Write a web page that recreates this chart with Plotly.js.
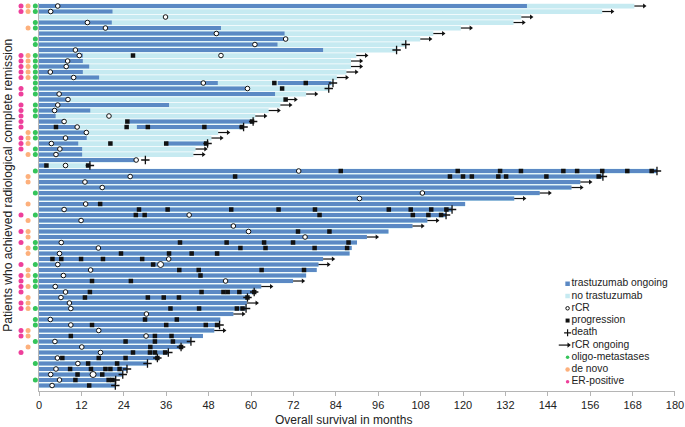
<!DOCTYPE html>
<html>
<head>
<meta charset="utf-8">
<script src="https://cdn.plot.ly/plotly-3.0.1.min.js"></script>
<style>html, body { margin: 0; padding: 0; background: #fff; }</style>
</head>
<body>
<div id="plot"></div>
<script>
// one value per patient row, top row first
const totalMonths = [
    168.5, 159.4, 136.5, 134.3, 119.4, 111.6, 107.9, 103.8, 101.2, 89.8,
    88.3, 88.3, 87, 84.3, 83.2, 82, 75.6, 69.8, 68.3, 65,
    61.2, 60.6, 57.9, 50.7, 48.8, 47.7, 44.3, 43.7, 27.5, 13.9,
    174.9, 159.6, 153.2, 150.7, 141.7, 134.5, 120.6, 116.9, 115.2, 109.9,
    105.7, 98.9, 92.8, 90, 88.5, 87.9, 80.4, 79.1, 78.6, 75.6,
    71.9, 62.9, 60.9, 59, 58.8, 58.6, 55, 51.3, 51.1, 49.6,
    46.4, 43, 40.2, 36.6, 33.5, 30.7, 24.9, 23.7, 21.7, 21.6
];
const rcrMonths = [
    5.3, 3.3, 35.8, 13.7, 18.8, 50.2, 69.8, 61.1, 10.3, 11.4,
    8.1, 7.7, 3.2, 9.8, 46.5, 59, 5.7, 8.2, 5.3, 4.4,
    19.8, 7.1, 10.8, 13.4, 7.5, 3.5, 5.9, 4.8, 27.5, 7.5,
    73.5, 25.8, 13, 17.9, 108.5, 90.7, 13.2, 7.1, 42.5, 11.9,
    55, 59.3, 75.3, 6.3, 16.8, 5.8, 36.7, 5.3, 14.6, 6.9,
    52.8, 4.6, 7.5, 6.2, 8.6, 9, 30.4, 3.2, 9, 16.9,
    30.3, 4.5, 12.1, 17.4, 5.2, 11, 4.8, 3.3, 5.8, 3.7
];

// rows with a second rCR
const rcr2Rows = [9];
const rcr2Months = [51.5];
const rcrBigRows = [47, 67];
const rcrBigMonths = [34.4, 15.3];

// trastuzumab segments, rows 30-69 run the whole bar
const darkRows = [0, 1, 3, 4, 5, 6, 7, 8, 9, 10, 11, 12, 13, 14, 14, 15, 16, 17, 18, 19, 20, 21, 21, 22, 22, 23, 24, 25, 25, 26, 27, 28, 29];
const darkStart = [0, 0, 0, 0, 0, 0, 0, 0, 0, 0, 0, 0, 0, 0, 67.6, 0, 0, 0, 0, 0, 0, 0, 25.5, 0, 27.7, 0, 0, 0, 36, 0, 0, 0, 0];
const darkEnd = [138.1, 20.8, 20.6, 51.5, 69.5, 69.8, 67.5, 80.4, 12.4, 12.4, 14.2, 12.4, 17, 50.6, 82.7, 58.4, 66.8, 8.2, 36.8, 14.5, 4.7, 7.1, 60.2, 10.8, 57.4, 13.4, 13.5, 11.1, 47.2, 12.2, 12.2, 27.5, 2.1];

const progRows = [
    9, 14, 14, 15, 17, 21, 21, 22, 22, 22, 22, 22, 25, 25, 25, 29, 29,
    30, 30, 30, 30, 30, 30, 30, 30, 30,
    31, 31, 31, 31, 31, 31, 31, 31, 36,
    37, 37, 37, 37, 37, 37, 37, 37, 37,
    38, 38, 38, 38, 38, 38, 41, 41,
    43, 43, 43, 43, 43, 44, 44, 44, 44, 45, 45, 45, 45,
    46, 46, 46, 46, 46, 47, 48, 48, 48, 48, 49, 50, 50,
    52, 52, 52, 52, 52, 52, 53, 53, 53, 53, 53, 55, 55, 55, 55,
    57, 57, 58, 58, 58, 58, 60, 60, 60, 61, 61, 61, 62, 62,
    63, 63, 63, 63, 64, 64, 64, 64, 65, 65,
    66, 66, 66, 66, 66, 67, 67, 68, 68, 68, 69
];
const progMonths = [
    26.6, 66.6, 75.5, 68.8, 69.8, 25, 60.3, 4.8, 24.8, 30.8, 46.8, 57.4, 20.2, 36, 47.3, 2.1, 13.9,
    85.4, 118.5, 130.5, 136.4, 148.4, 152.3, 159.4, 166.5, 173.4,
    55.5, 116.3, 120, 122.5, 130, 132.2, 143.6, 158.4, 17.3,
    28.3, 36.4, 54.4, 67.8, 78.1, 99, 105.2, 111, 115.3,
    27.4, 29.9, 79.4, 105.8, 110.2, 113.8, 73.3, 82.2,
    39.9, 53.1, 63.7, 71.9, 87.6, 57, 64.1, 78, 87.2, 23.2, 36.8, 43.2, 50.4,
    3.8, 6.3, 11.9, 18.1, 29.2, 32.3, 39.7, 45.2, 63, 75, 45.7, 15, 26,
    14.4, 46, 52.2, 53.4, 56.7, 60.9, 13, 30.8, 35.3, 39.6, 59, 37.2, 45.3, 56, 57.6,
    30, 39, 15, 36, 47.2, 50.4, 9, 32.8, 37.5, 24.5, 32.8, 37.9, 31.5, 40.2,
    26.6, 31.4, 32.8, 35.7, 6.6, 16.9, 24.5, 33.5, 13.9, 22.1,
    8.8, 14.7, 18.8, 20.2, 22.8, 10.9, 17.9, 10.3, 19.7, 20.8, 14.2
];

const deathRows = [7, 8, 14, 15, 21, 22, 25, 28, 29, 30, 31, 37, 38, 52, 53, 55, 58, 61, 62, 63, 64, 65, 66, 67, 68, 69];
const deathMonths = [103.8, 101.2, 83.2, 82, 60.6, 57.9, 47.7, 30.1, 14.4, 174.9, 159.6, 116.9, 115.2, 60.9, 59, 58.6, 51.1, 43, 40.2, 36.6, 33.5, 30.7, 24.9, 23.7, 21.7, 21.6];

const ongoingRows = [0, 1, 2, 3, 4, 5, 6, 9, 10, 11, 12, 13, 16, 17, 18, 19, 20, 23, 24, 26, 27, 32, 33, 34, 35, 39, 40, 42, 46, 47, 50, 51, 54, 56, 59];

const oligoRows = [0, 1, 3, 4, 6, 7, 9, 10, 11, 12, 13, 14, 15, 16, 18, 19, 20, 23, 24, 26, 27, 30, 34, 38, 43, 44, 47, 49, 50, 51, 55, 57, 58, 61, 65, 68];
const deNovoRows = [0, 1, 4, 9, 10, 11, 12, 13, 23, 24, 25, 27, 31, 32, 36, 39, 41, 42, 44, 45, 48, 49, 51, 53, 54, 55, 59, 60, 62];
const erRows = [0, 1, 9, 10, 11, 12, 13, 15, 16, 18, 19, 20, 21, 22, 24, 25, 26, 38, 41, 43, 47, 49, 50, 51, 52, 54, 55, 59, 60, 63];

const legendLabels = ['trastuzumab ongoing', 'no trastuzumab', 'rCR', 'progression', 'death', 'rCR ongoing', 'oligo-metastases', 'de novo', 'ER-positive'];

const xTicks = [0, 12, 24, 36, 48, 60, 72, 84, 96, 108, 120, 132, 144, 156, 168, 180];

const DARK = '#5b89c4';
const LIGHT = '#c6eaf1';
const GREEN = '#35c45a';
const ORANGE = '#fdb07c';
const PINK = '#ee3f9b';
const ARROW_LENGTH = 2.8;

const allRows = totalMonths.map((v, i) => i);

function dots(rows, x, color, size, symbol) {
    return {
        x: rows.map(() => x),
        y: rows,
        type: 'scatter',
        mode: 'markers',
        marker: { color: color, size: size || 4.5, symbol: symbol || 'circle' },
    };
}

// patient flags sit in a strip left of the month axis
function flags(rows, x, color) {
    let trace = dots(rows, x, color, 5);
    trace.xaxis = 'x2';
    return trace;
}

function openCircles(rows, months, size) {
    return {
        x: months,
        y: rows,
        type: 'scatter',
        mode: 'markers',
        marker: { color: '#fff', size: size, line: { color: '#111', width: 1 } },
    };
}

function blackMarks(rows, months, symbol, size, lineWidth) {
    return {
        x: months,
        y: rows,
        type: 'scatter',
        mode: 'markers',
        marker: { color: '#111', symbol: symbol, size: size, line: { color: '#111', width: lineWidth || 0 } },
    };
}

function arrowLines(rows, starts) {
    let x = [], y = [];
    rows.forEach(function (row, i) {
        x.push(starts[i], starts[i] + ARROW_LENGTH, null);
        y.push(row, row, null);
    });
    return {
        x: x,
        y: y,
        type: 'scatter',
        mode: 'lines',
        line: { color: '#111', width: 1.2 },
    };
}

let ongoingStart = ongoingRows.map(row => totalMonths[row]);
let ongoingHead = ongoingStart.map(v => v + ARROW_LENGTH);

// rows 30-69 are trastuzumab from start to end
let solidRows = allRows.slice(30);

let data = [
    {
        x: totalMonths,
        y: allRows,
        type: 'bar',
        orientation: 'h',
        width: 0.86,
        marker: { color: LIGHT },
    },
    {
        x: darkEnd.map((v, i) => v - darkStart[i]),
        base: darkStart,
        y: darkRows,
        type: 'bar',
        orientation: 'h',
        width: 0.76,
        marker: { color: DARK },
    },
    {
        x: solidRows.map(row => totalMonths[row]),
        y: solidRows,
        type: 'bar',
        orientation: 'h',
        width: 0.76,
        marker: { color: DARK },
    },
    arrowLines(ongoingRows, ongoingStart),
    blackMarks(ongoingRows, ongoingHead, 'triangle-right', 4.5),
    blackMarks(deathRows, deathMonths, 'cross-thin', 6, 1.3),
    blackMarks(progRows, progMonths, 'square', 4.5),
    openCircles(allRows, rcrMonths, 4.6),
    openCircles(rcr2Rows, rcr2Months, 4.6),
    openCircles(rcrBigRows, rcrBigMonths, 6),
    flags(oligoRows, -1.04, GREEN),
    flags(deNovoRows, -3.1, ORANGE),
    flags(erRows, -5.1, PINK),
];

// key drawn on the same axes: the built-in legend can't pack rows this tight
const keyX = 149.6;
const keyRows = legendLabels.map((v, i) => 50.5 + i * 2.23);
data.push(
    dots([keyRows[0]], keyX, DARK, 4.5, 'square'),
    dots([keyRows[1]], keyX, LIGHT, 4.5, 'square'),
    openCircles([keyRows[2]], [keyX], 3.5),
    blackMarks([keyRows[3]], [keyX], 'square', 4),
    blackMarks([keyRows[4]], [keyX], 'cross-thin', 5, 1.2),
    arrowLines([keyRows[5]], [keyX - 2.5]),
    blackMarks([keyRows[5]], [keyX + 0.3], 'triangle-right', 4.5),
    dots([keyRows[6]], keyX, GREEN, 3.5),
    dots([keyRows[7]], keyX, ORANGE, 4.5),
    dots([keyRows[8]], keyX, PINK, 3.5),
    {
        x: keyRows.map(() => 150.7),
        y: keyRows,
        text: legendLabels,
        type: 'scatter',
        mode: 'text',
        textposition: 'middle right',
        cliponaxis: false,
        textfont: { family: 'Liberation Sans', size: 10.3, color: '#222' },
    }
);

const PLOT_WIDTH = 674.7;
const AXIS_LEFT = 39;

let layout = {
    width: 685,
    height: 427,
    margin: { l: 0, r: 685 - PLOT_WIDTH, t: 3, b: 36 },
    paper_bgcolor: '#fff',
    plot_bgcolor: '#fff',
    showlegend: false,
    barmode: 'overlay',
    hovermode: false,
    font: { family: 'Liberation Sans', color: '#222', size: 12 },
    xaxis: {
        domain: [AXIS_LEFT / PLOT_WIDTH, 1],
        range: [0, 180],
        tickmode: 'array',
        tickvals: xTicks,
        ticks: 'outside',
        ticklen: 4,
        tickcolor: '#b5b5b5',
        showline: true,
        linecolor: '#b5b5b5',
        showgrid: false,
        zeroline: false,
        tickfont: { size: 11 },
    },
    xaxis2: {
        domain: [0, AXIS_LEFT / PLOT_WIDTH],
        range: [-11.05, 0],
        anchor: 'y',
        visible: false,
    },
    yaxis: {
        range: [70, -0.55],
        showticklabels: false,
        ticks: '',
        showline: true,
        linecolor: '#b5b5b5',
        showgrid: false,
        zeroline: false,
    },
    annotations: [
        {
            text: 'Overall survival in months',
            xref: 'paper',
            yref: 'paper',
            x: 343.5 / PLOT_WIDTH,
            y: -0.052,
            yanchor: 'top',
            showarrow: false,
            font: { size: 12 },
        },
        {
            text: 'Patients who achieved radiological complete remission',
            xref: 'paper',
            yref: 'paper',
            x: 8 / PLOT_WIDTH,
            y: 0.529,
            xanchor: 'center',
            yanchor: 'middle',
            textangle: -90,
            showarrow: false,
            font: { size: 12.1 },
        },
    ],
};

Plotly.newPlot('plot', data, layout, { displayModeBar: false, staticPlot: true });
</script>
</body>
</html>
